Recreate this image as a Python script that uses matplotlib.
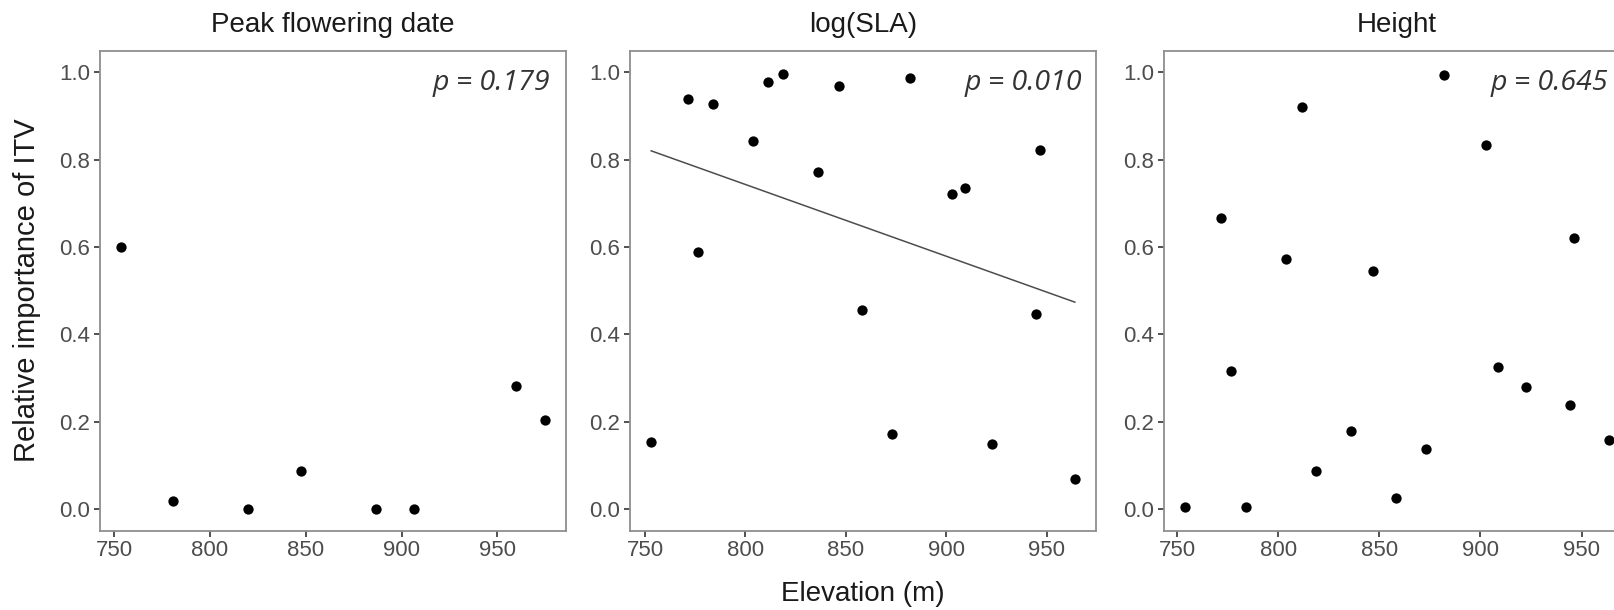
import matplotlib
matplotlib.use("Agg")
import matplotlib.pyplot as plt
import numpy as np

# Data
titles = ["Peak flowering date", "log(SLA)", "Height"]
p_values = ["0.179", "0.010", "0.645"]

elev_pfd = [753.6, 780.9, 820.0, 847.3, 886.6, 906.4, 959.9, 974.8]
itv_pfd = [0.600, 0.018, 0.000, 0.087, 0.000, 0.000, 0.282, 0.204]

elev_sla = [753.1, 771.2, 776.2, 783.8, 803.9, 811.5, 818.6, 836.0, 846.8,
            858.0, 873.1, 882.2, 903.1, 909.2, 922.8, 944.7, 947.0, 964.1]
itv_sla = [0.153, 0.939, 0.589, 0.927, 0.843, 0.978, 0.997, 0.772, 0.969,
           0.456, 0.172, 0.987, 0.721, 0.735, 0.149, 0.447, 0.822, 0.069]

elev_height = [754.0, 771.9, 776.7, 784.3, 804.1, 812.0, 818.5, 836.1, 846.9,
               858.1, 872.9, 882.0, 902.6, 908.9, 922.4, 944.1, 946.5, 963.5]
itv_height = [0.005, 0.666, 0.316, 0.005, 0.573, 0.921, 0.087, 0.179, 0.545,
              0.025, 0.137, 0.994, 0.834, 0.324, 0.280, 0.238, 0.621, 0.158]

xs = [elev_pfd, elev_sla, elev_height]
ys = [itv_pfd, itv_sla, itv_height]
show_fit = [False, True, False]

x_ticks = [750, 800, 850, 900, 950]
y_ticks = [0.0, 0.2, 0.4, 0.6, 0.8, 1.0]

plt.rcParams['font.family'] = ['Liberation Sans', 'DejaVu Sans']

W, H = 1615, 610
fig = plt.figure(figsize=(W / 100, H / 100), dpi=100)

# panel placement in pixels (third panel runs past the right edge, like the original)
lefts = [100, 630, 1164]
pw = 466
top_px, bot_px = 50.5, 530.7
# how far the p-value text ends from each panel's right border (px)
p_inset = [16, 14, 22]

frame_col = '#8f8f8f'
tick_col = '#333333'

for i in range(3):
    ax = fig.add_axes([lefts[i] / W, 1 - bot_px / H, pw / W, (bot_px - top_px) / H])
    x = np.array(xs[i])
    y = np.array(ys[i])

    ax.scatter(x, y, s=55, color='black', zorder=3, linewidths=0)

    if show_fit[i]:
        b, a = np.polyfit(x, y, 1)
        xx = np.array([x.min(), x.max()])
        ax.plot(xx, a + b * xx, color='#4d4d4d', linewidth=1.1, zorder=2)

    # ggplot style 5% expansion
    pad = 0.05 * (x.max() - x.min())
    ax.set_xlim(x.min() - pad, x.max() + pad)
    ax.set_ylim(-0.05, 1.05)

    ax.set_xticks(x_ticks)
    ax.set_yticks(y_ticks)
    ax.set_yticklabels(['%.1f' % v for v in y_ticks])
    ax.tick_params(axis='both', labelsize=16, colors=tick_col, labelcolor='#4d4d4d',
                   length=4, width=1.2, pad=3)

    for sp in ax.spines.values():
        sp.set_color(frame_col)
        sp.set_linewidth(1.3)

    ax.set_title(titles[i], fontsize=20, pad=13, color='#1a1a1a')

    ax.text(1 - p_inset[i] / pw, 0.918, 'p = ' + p_values[i], transform=ax.transAxes,
            ha='right', va='baseline', fontsize=20.5, style='italic',
            family=['Open Sans', 'DejaVu Sans'], color='#333333')

fig.text(27 / W, 1 - 290 / H, 'Relative importance of ITV', rotation=90,
         ha='center', va='center', fontsize=21, color='#1a1a1a')
fig.text(863 / W, 1 - 594 / H, 'Elevation (m)', ha='center', va='center',
         fontsize=20, color='#1a1a1a')

fig.savefig('out.png', dpi=100, facecolor='white')
